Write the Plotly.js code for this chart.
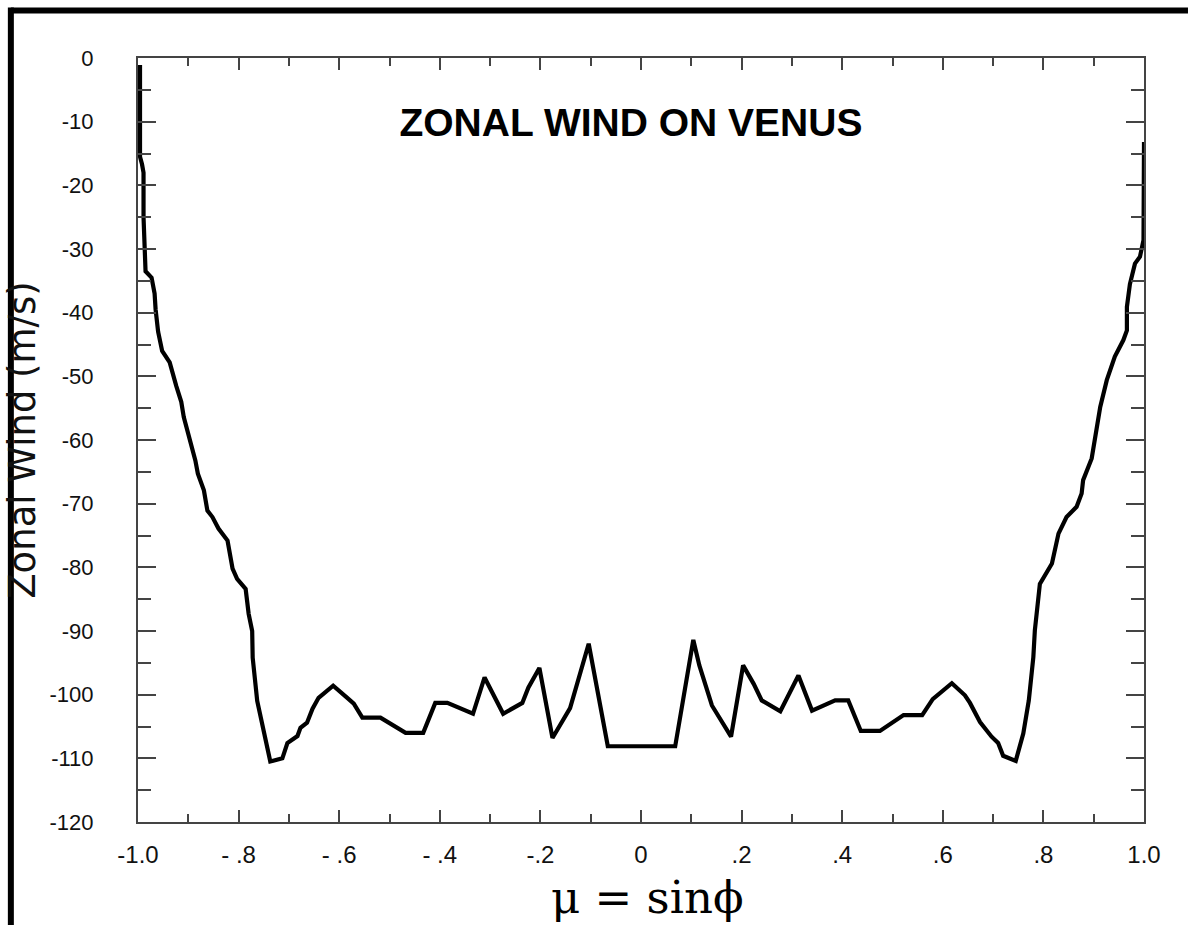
<!DOCTYPE html>
<html>
<head>
<meta charset="utf-8">
<script src="https://cdn.plot.ly/plotly-3.0.1.min.js"></script>
<style>
  html, body { margin: 0; padding: 0; background: #ffffff; }
  #chart { width: 1188px; height: 925px; }
</style>
</head>
<body>
<div id="chart"></div>
<script>
// Data
const mu = [
  -0.996,-0.996,-0.992,-0.989,-0.989,-0.987,-0.985,-0.973,-0.967,-0.965,
  -0.960,-0.952,-0.937,-0.924,-0.914,-0.909,-0.900,-0.886,-0.881,-0.869,
  -0.862,-0.852,-0.840,-0.822,-0.812,-0.803,-0.786,-0.780,-0.773,-0.772,
  -0.763,-0.737,-0.713,-0.703,-0.683,-0.677,-0.664,-0.653,-0.641,-0.612,
  -0.584,-0.571,-0.554,-0.518,-0.468,-0.433,-0.409,-0.385,-0.334,-0.311,
  -0.274,-0.236,-0.224,-0.202,-0.176,-0.141,-0.104,-0.066,0.005,0.068,
  0.104,0.116,0.141,0.179,0.203,0.224,0.240,0.277,0.313,0.340,
  0.386,0.412,0.437,0.475,0.522,0.559,0.580,0.618,0.644,0.654,
  0.674,0.684,0.697,0.710,0.720,0.745,0.760,0.771,0.780,0.783,
  0.793,0.817,0.830,0.846,0.866,0.876,0.879,0.896,0.906,0.913,
  0.926,0.942,0.959,0.966,0.966,0.972,0.982,0.992,0.999,1.0,
  1.0,1.0
];
const wind = [
  -1.1,-15.5,-16.7,-18,-25,-32.5,-33.5,-34.5,-37,-39.5,
  -43,-46,-47.8,-51.5,-54,-56.4,-59,-63.2,-65.3,-67.9,
  -71.1,-72.1,-73.9,-75.8,-80.2,-81.8,-83.4,-87.3,-90,-94.2,
  -101,-110.5,-110,-107.6,-106.5,-105.2,-104.4,-102.2,-100.5,-98.6,
  -100.5,-101.4,-103.6,-103.6,-106,-106,-101.3,-101.3,-103,-97.3,
  -103,-101.3,-98.9,-95.8,-106.8,-102.1,-92,-108.1,-108.1,-108.1,
  -91.4,-95.4,-101.7,-106.6,-95.4,-98.3,-100.9,-102.6,-97,-102.5,
  -100.9,-100.9,-105.7,-105.7,-103.2,-103.2,-100.7,-98.2,-100.1,-101.3,
  -104.3,-105.4,-106.6,-107.6,-109.6,-110.4,-106.1,-100.9,-94.1,-89.9,
  -82.6,-79.4,-74.7,-72.1,-70.5,-68.4,-66.3,-62.9,-57.9,-54.8,
  -50.6,-46.9,-44.3,-42.8,-39.1,-35.5,-32.3,-31.2,-28.6,-18.2,
  -14,-13.2
];

const xTickVals = [-1.0,-0.8,-0.6,-0.4,-0.2,0,0.2,0.4,0.6,0.8,1.0];
const xTickText = ["-1.0","- .8","- .6","- .4","-.2","0",".2",".4",".6",".8","1.0"];
const yTickVals = [0,-10,-20,-30,-40,-50,-60,-70,-80,-90,-100,-110,-120];
const yTickText = ["0","-10","-20","-30","-40","-50","-60","-70","-80","-90","-100","-110","-120"];

const chartTitle = "ZONAL WIND ON VENUS";
const xTitle = "\u03bc = sin\u03d5";
const yTitle = "Zonal Wind (m/s)";

const frameColor = "#444444";
const sans = "Liberation Sans, Arial, sans-serif";

const trace = {
  x: mu,
  y: wind,
  type: "scatter",
  mode: "lines",
  line: { color: "#000000", width: 4.2, shape: "linear" },
  hoverinfo: "x+y",
  showlegend: false
};

const layout = {
  width: 1188,
  height: 925,
  paper_bgcolor: "#ffffff",
  plot_bgcolor: "#ffffff",
  margin: { l: 137.5, r: 44, t: 57.7, b: 103.4, pad: 0 },
  showlegend: false,
  title: {
    text: chartTitle,
    font: { family: sans, size: 39, color: "#000000", weight: "bold" },
    x: 0.49, xref: "paper", xanchor: "center",
    y: 0.916, yref: "paper", yanchor: "middle"
  },
  xaxis: {
    range: [-1, 1],
    fixedrange: true,
    showgrid: false,
    zeroline: false,
    showline: true,
    linecolor: frameColor,
    linewidth: 2,
    mirror: "ticks",
    ticks: "inside",
    ticklen: 12,
    tickwidth: 2,
    tickcolor: frameColor,
    tickmode: "array",
    tickvals: xTickVals,
    ticktext: xTickText,
    ticklabelstandoff: 10,
    tickfont: { family: sans, size: 24, color: "#111111" },
    minor: { tickmode: "linear", tick0: -1, dtick: 0.1, ticks: "inside", ticklen: 8, tickwidth: 2, tickcolor: frameColor, showgrid: false },
    automargin: false
  },
  yaxis: {
    range: [-120, 0],
    fixedrange: true,
    showgrid: false,
    zeroline: false,
    showline: true,
    linecolor: frameColor,
    linewidth: 2,
    mirror: "ticks",
    ticks: "inside",
    ticklen: 18,
    tickwidth: 2,
    tickcolor: frameColor,
    tickmode: "array",
    tickvals: yTickVals,
    ticktext: yTickText,
    ticklabelstandoff: 38,
    tickfont: { family: sans, size: 22, color: "#111111" },
    minor: { tickmode: "linear", tick0: 0, dtick: 5, ticks: "inside", ticklen: 13, tickwidth: 2, tickcolor: frameColor, showgrid: false },
    title: {
      text: yTitle,
      font: { family: "DejaVu Sans, Liberation Sans, sans-serif", size: 37, color: "#111111" },
      standoff: 3
    },
    automargin: false
  },
  annotations: [
    {
      text: xTitle,
      xref: "paper", yref: "paper",
      x: 0.506, y: -0.0987,
      xanchor: "center", yanchor: "middle",
      showarrow: false,
      font: { family: "DejaVu Serif, Liberation Serif, serif", size: 45, color: "#000000" }
    }
  ],
  shapes: [
    { type: "line", xref: "paper", yref: "paper", x0: -0.12638, x1: 1.04372, y0: 1.06205, y1: 1.06205,
      line: { color: "#000000", width: 6 }, layer: "above" },
    { type: "line", xref: "paper", yref: "paper", x0: -0.12638, x1: -0.12638, y0: 1.06598, y1: -0.13536,
      line: { color: "#000000", width: 6 }, layer: "above" }
  ]
};

Plotly.newPlot("chart", [trace], layout, { displayModeBar: false, staticPlot: true });
</script>
</body>
</html>
